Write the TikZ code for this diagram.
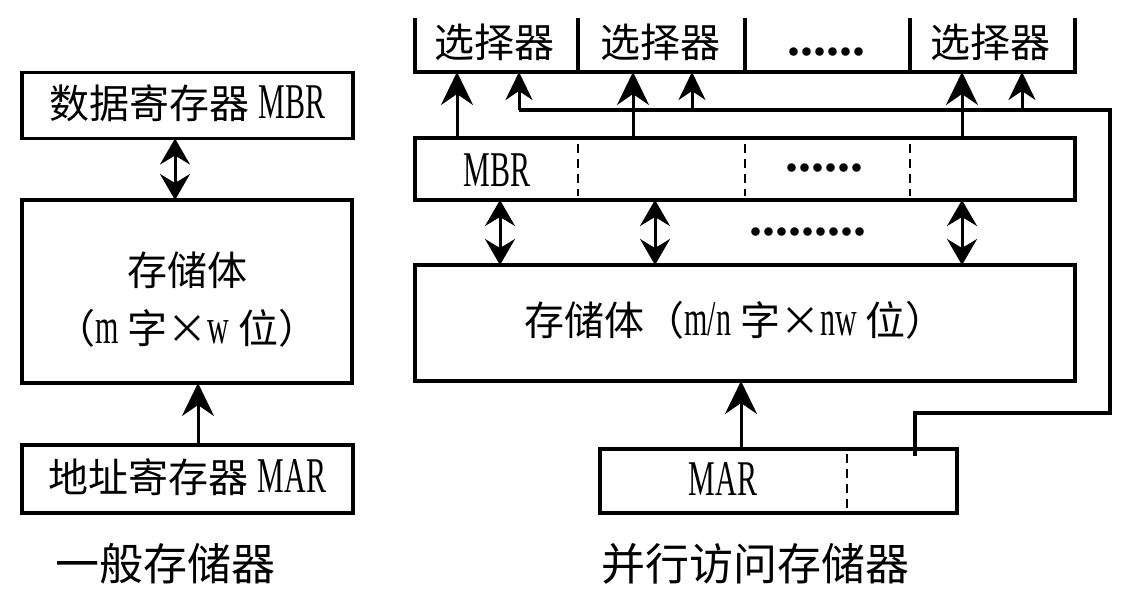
\documentclass[tikz,border=0pt]{standalone}
\usepackage{fontspec}
\usepackage{graphicx}
\setmainfont{Noto Sans CJK SC}
\newfontfamily\lat{Liberation Serif}
\usetikzlibrary{arrows.meta}
\newcommand\LT[1]{\scalebox{0.6}[1]{\lat\fontsize{50}{50}\selectfont #1}}
\newcommand\DOTS[1]{{\lat\bfseries\fontsize{52}{52}\selectfont #1}}
\begin{document}
\begin{tikzpicture}[x=1pt,y=-1pt,
  box/.style={draw, line width=3.5pt, rectangle, inner sep=0pt, outer sep=0pt},
  cell/.style={rectangle, inner sep=0pt, outer sep=0pt, minimum height=54pt},
  txt/.style={font=\fontsize{40}{58}\selectfont, inner sep=0pt, align=center},
  frame/.style={line width=3.5pt},
  arr/.style={line width=3pt, -{Stealth[length=33pt,width=32pt,inset=11pt]}},
  darr/.style={line width=3pt, {Stealth[length=26pt,width=30pt,inset=9pt]}-{Stealth[length=26pt,width=30pt,inset=9pt]}},
  sarr/.style={line width=3pt, -{Stealth[length=28pt,width=27pt,inset=9pt]}},
  wire/.style={line width=4pt},
  divline/.style={line width=1.5pt, dash pattern=on 9pt off 6pt}]
\useasboundingbox (0,0) rectangle (1124,598);

% ---------- left: general memory ----------
\node[box, minimum width=331pt, minimum height=66pt] (lmbr) at (187.5,105.5) {};
\node[txt] (lmbrt) at (187.5,103) {数据寄存器 \LT{MBR}};
\node[box, minimum width=330pt, minimum height=183pt] (lbody) at (187,291.5) {};
\node[txt] (lbodyt) at (187,300) {存储体\\（\LT{m} 字×\LT{w} 位）};
\node[box, minimum width=331pt, minimum height=68pt] (lmar) at (187.5,479) {};
\node[txt] (lmart) at (187.5,477) {地址寄存器 \LT{MAR}};

\coordinate (xa) at (175,0);
\coordinate (xb) at (198,0);
\draw[darr] (lmbr.south -| xa) -- (lbody.north -| xa);
\draw[arr] (lmar.north -| xb) -- (lbody.south -| xb);

\node[txt, font=\fontsize{44}{44}\selectfont] (lcap) at (165,564) {一般存储器};

% ---------- right: parallel access memory ----------
\node[cell, minimum width=163pt] (sel1) at (496.5,45) {};
\node[cell, minimum width=167pt] (sel2) at (661.5,45) {};
\node[cell, minimum width=165pt] (sel3) at (827.5,45) {};
\node[cell, minimum width=165pt] (sel4) at (992.5,45) {};
\node[txt] (sel1t) at (494,42) {选择器};
\node[txt] (sel2t) at (660,42) {选择器};
\node[txt] (sel3t) at (826,52) {\DOTS{......}};
\node[txt] (sel4t) at (990,42) {选择器};
\draw[frame] (sel1.north west) -- (sel1.south west) -- (sel4.south east) -- (sel4.north east);
\draw[frame] (sel2.north west) -- (sel2.south west);
\draw[frame] (sel3.north west) -- (sel3.south west);
\draw[frame] (sel4.north west) -- (sel4.south west);

\node[box, minimum width=660pt, minimum height=62pt] (rmbr) at (745,169) {};
\node[txt] (rmbrt) at (497,170) {\LT{MBR}};
\node[txt] (rmbrd) at (824,168) {\DOTS{......}};
\draw[divline] (578,144) -- (578,196);
\draw[divline] (745,144) -- (745,196);
\draw[divline] (910,144) -- (910,196);

\node[box, minimum width=660pt, minimum height=116pt] (rbody) at (745,323) {};
\node[txt] (rbodyt) at (735,320) {存储体（\LT{m/n} 字×\LT{nw} 位）};
\node[txt] (middots) at (808,232) {\DOTS{.........}};

\node[box, minimum width=357pt, minimum height=64pt] (rmar) at (778.5,481) {};
\node[txt] (rmart) at (723,479) {\LT{MAR}};
\draw[divline] (847,454) -- (847,510);

% arrows MBR -> selectors
\coordinate (b1) at (457,0);
\coordinate (b2) at (633,0);
\coordinate (b3) at (962,0);
\draw[arr] (rmbr.north -| b1) -- (sel1.south -| b1);
\draw[arr] (rmbr.north -| b2) -- (sel2.south -| b2);
\draw[arr] (rmbr.north -| b3) -- (sel4.south -| b3);

% MAR low part wire -> selectors
\coordinate (wA) at (915,456);
\coordinate (wB) at (915,413);
\coordinate (wC) at (1110,413);
\coordinate (wD) at (1110,110);
\coordinate (wE) at (519,110);
\coordinate (s2) at (692,110);
\coordinate (s3) at (1022,110);
\draw[wire] (wA) -- (wB) -- (wC) -- (wD) -- (wE);
\draw[sarr] (wE) -- (sel1.south -| wE);
\draw[sarr] (s2) -- (sel2.south -| s2);
\draw[sarr] (s3) -- (sel4.south -| s3);

% MBR <-> body
\coordinate (d1) at (500,0);
\coordinate (d2) at (655,0);
\coordinate (d3) at (962,0);
\draw[darr] (rmbr.south -| d1) -- (rbody.north -| d1);
\draw[darr] (rmbr.south -| d2) -- (rbody.north -| d2);
\draw[darr] (rmbr.south -| d3) -- (rbody.north -| d3);

% MAR -> body
\coordinate (m1) at (741,0);
\draw[arr] (rmar.north -| m1) -- (rbody.south -| m1);

\node[txt, font=\fontsize{44}{44}\selectfont] (rcap) at (755,564) {并行访问存储器};
\end{tikzpicture}
\end{document}
